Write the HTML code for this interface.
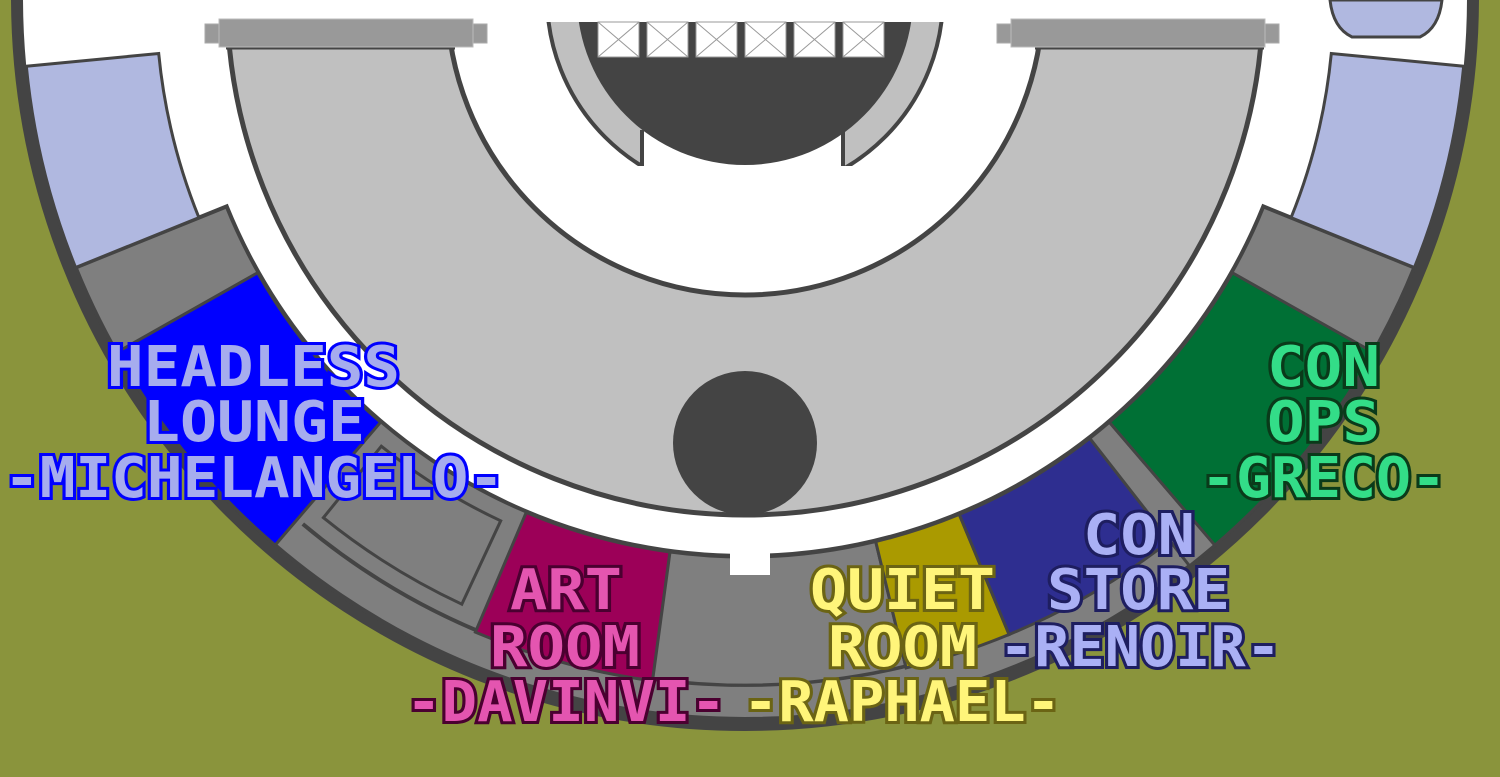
<!DOCTYPE html>
<html><head><meta charset="utf-8"><style>
html,body{margin:0;padding:0;background:#8a943c;}
svg{display:block}
text{font-family:"DejaVu Sans Mono","Liberation Mono",monospace;font-weight:bold;paint-order:stroke;stroke-width:6;stroke-linejoin:miter;}
</style></head><body>
<svg id="s" width="1500" height="777" viewBox="0 0 1500 777" xmlns="http://www.w3.org/2000/svg">
<rect width="1500" height="777" fill="#8a943c"/>
<circle cx="745" cy="-3" r="728" fill="#fff" stroke="#444" stroke-width="12"/>
<g id="rooms"></g>
<!-- inner light grey annulus -->
<circle cx="745" cy="-3" r="518" fill="#c0c0c0" stroke="#444" stroke-width="5"/>
<circle cx="745" cy="-3" r="298" fill="#fff" stroke="#444" stroke-width="5"/>
<rect x="215" y="0" width="1060" height="46" fill="#fff"/>
<line x1="226" y1="47.5" x2="455" y2="47.5" stroke="#444" stroke-width="4"/>
<line x1="1035" y1="47.5" x2="1264" y2="47.5" stroke="#444" stroke-width="4"/>
<circle cx="745" cy="443" r="72" fill="#444"/>
<!-- stage -->
<clipPath id="top"><rect x="0" y="22" width="1500" height="144"/></clipPath>
<clipPath id="sides"><rect x="0" y="22" width="643" height="144"/><rect x="842" y="22" width="300" height="144"/></clipPath>
<circle cx="745" cy="-3" r="198" fill="#c0c0c0" stroke="#444" stroke-width="4" clip-path="url(#sides)"/>
<line x1="642" y1="130" x2="642" y2="166" stroke="#444" stroke-width="4"/>
<line x1="843" y1="130" x2="843" y2="166" stroke="#444" stroke-width="4"/>
<circle cx="745" cy="-3" r="168" fill="#444" clip-path="url(#top)"/>
<g id="boxes" fill="#fff" stroke="#999" stroke-width="1"></g>
<!-- bars -->
<rect x="205" y="24" width="282" height="19" fill="#999" stroke="#aaa"/>
<rect x="219" y="19" width="254" height="28" fill="#999" stroke="#bbb"/>
<rect x="997" y="24" width="282" height="19" fill="#999" stroke="#aaa"/>
<rect x="1011" y="19" width="254" height="28" fill="#999" stroke="#bbb"/>
<!-- top right small room -->
<path d="M1330 0 Q1333 28 1352 37 L1420 37 Q1439 28 1442 0 Z" fill="#b0b8e0" stroke="#444" stroke-width="3"/>
<!-- labels -->
<g fill="#a6acee" stroke="#0000ff">
<text x="107" y="386" font-size="56" textLength="293" lengthAdjust="spacingAndGlyphs">HEADLESS</text>
<text x="143" y="441" font-size="56" textLength="222" lengthAdjust="spacingAndGlyphs">LOUNGE</text>
<text x="4" y="497" font-size="56" textLength="500" lengthAdjust="spacingAndGlyphs">-MICHELANGELO-</text>
</g>
<g fill="#e455b0" stroke="#4a0030">
<text x="510" y="609" font-size="56" textLength="112" lengthAdjust="spacingAndGlyphs">ART</text>
<text x="490" y="666" font-size="56" textLength="150" lengthAdjust="spacingAndGlyphs">ROOM</text>
<text x="406" y="721" font-size="56" textLength="320" lengthAdjust="spacingAndGlyphs">-DAVINVI-</text>
</g>
<g fill="#fff57a" stroke="#6b6414">
<text x="810" y="609" font-size="56" textLength="185" lengthAdjust="spacingAndGlyphs">QUIET</text>
<text x="828" y="666" font-size="56" textLength="149" lengthAdjust="spacingAndGlyphs">ROOM</text>
<text x="743" y="721" font-size="56" textLength="318" lengthAdjust="spacingAndGlyphs">-RAPHAEL-</text>
</g>
<g fill="#aab0f5" stroke="#1e1e60">
<text x="1083" y="554" font-size="56" textLength="112" lengthAdjust="spacingAndGlyphs">CON</text>
<text x="1047" y="609" font-size="56" textLength="183" lengthAdjust="spacingAndGlyphs">STORE</text>
<text x="999" y="666" font-size="56" textLength="282" lengthAdjust="spacingAndGlyphs">-RENOIR-</text>
</g>
<g fill="#33dd88" stroke="#0a3a1a">
<text x="1267" y="386" font-size="56" textLength="113" lengthAdjust="spacingAndGlyphs">CON</text>
<text x="1267" y="441" font-size="56" textLength="113" lengthAdjust="spacingAndGlyphs">OPS</text>
<text x="1201" y="497" font-size="56" textLength="245" lengthAdjust="spacingAndGlyphs">-GRECO-</text>
</g>
</svg>
<script>
(function(){
var NS="http://www.w3.org/2000/svg",cx=745,cy=-3;
function p(r,a){a=a*Math.PI/180;return [(cx+r*Math.sin(a)).toFixed(1),(cy+r*Math.cos(a)).toFixed(1)];}
function sec(r1,r2,a1,a2){var A=p(r2,a1),B=p(r2,a2),C=p(r1,a2),D=p(r1,a1);
return "M"+A+" A"+r2+" "+r2+" 0 0 0 "+B+" L"+C+" A"+r1+" "+r1+" 0 0 1 "+D+" Z";}
var g=document.getElementById("rooms");
function add(d,fill,sw){var e=document.createElementNS(NS,"path");e.setAttribute("d",d);e.setAttribute("fill",fill);e.setAttribute("stroke","#444");e.setAttribute("stroke-width",sw||3);g.appendChild(e);}
add(sec(559,722,-68,68),"#7f7f7f",4);
var e=document.createElementNS(NS,"path");var a=p(688,-40),b=p(688,40);
e.setAttribute("d","M"+a+" A688 688 0 0 0 "+b);e.setAttribute("fill","none");e.setAttribute("stroke","#444");e.setAttribute("stroke-width",4);g.appendChild(e);
add(sec(578,670,-39,-25),"#7f7f7f",3);
add(sec(589,722,-84.5,-68),"#b0b8e0",3);
add(sec(589,722,68,84.5),"#b0b8e0",3);
add(sec(560,722,-60.5,-40.6),"#0000ff",3);
add(sec(560,690,-23,-7.7),"#9c0058",3);
add(sec(560,688,-7.7,13.5),"#7f7f7f",3);
add(sec(560,690,13.5,22.5),"#aa9a00",3);
add(sec(560,690,22.5,38),"#2e2e90",3);
add(sec(560,722,38,40.6),"#7f7f7f",3);
add(sec(560,722,40.6,60.5),"#007035",3);
var r=document.createElementNS(NS,"rect");r.setAttribute("x",730);r.setAttribute("y",548);r.setAttribute("width",40);r.setAttribute("height",27);r.setAttribute("fill","#fff");g.appendChild(r);
var bx=document.getElementById("boxes");
for(var i=0;i<6;i++){var x=598+i*49;
var q=document.createElementNS(NS,"rect");q.setAttribute("x",x);q.setAttribute("y",22);q.setAttribute("width",41);q.setAttribute("height",35);bx.appendChild(q);
var l=document.createElementNS(NS,"path");l.setAttribute("d","M"+x+" 22 L"+(x+41)+" 57 M"+(x+41)+" 22 L"+x+" 57");bx.appendChild(l);}
})();
</script>
</body></html>
